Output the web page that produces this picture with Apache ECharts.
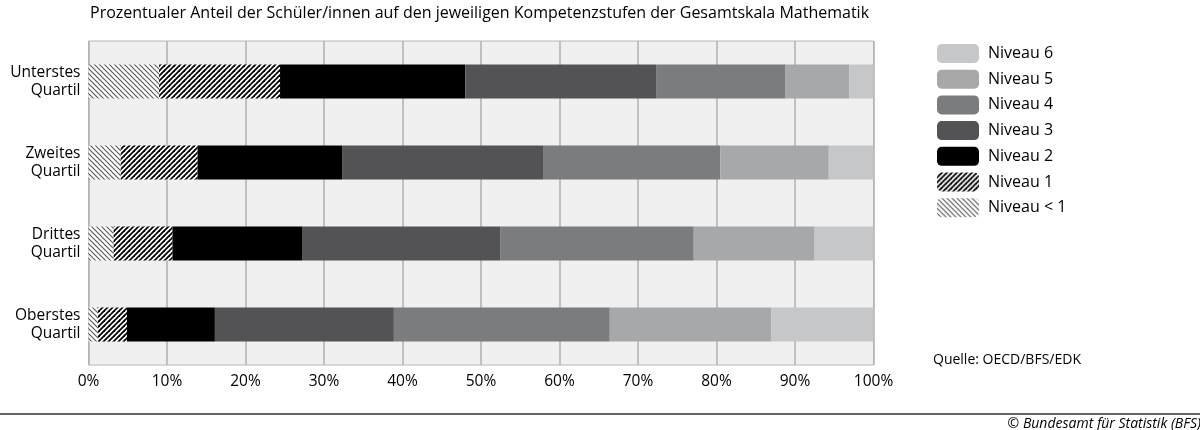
<!DOCTYPE html>
<html><head><meta charset="utf-8">
<script src="https://cdn.jsdelivr.net/npm/echarts@6/dist/echarts.min.js"></script>
<style>html,body{margin:0;padding:0;background:#fff}#c{width:1200px;height:430px}</style>
</head><body><div id="c"></div>
<script>
const categories = ['Unterstes\nQuartil', 'Zweites\nQuartil', 'Drittes\nQuartil', 'Oberstes\nQuartil'];
const seriesNames = ['Niveau < 1', 'Niveau 1', 'Niveau 2', 'Niveau 3', 'Niveau 4', 'Niveau 5', 'Niveau 6'];
const niveauLt1 = [9.0, 4.1, 3.2, 1.2];
const niveau1   = [15.4, 9.8, 7.5, 3.7];
const niveau2   = [23.6, 18.4, 16.5, 11.2];
const niveau3   = [24.3, 25.6, 25.3, 22.8];
const niveau4   = [16.5, 22.6, 24.6, 27.5];
const niveau5   = [8.1, 13.8, 15.4, 20.6];
const niveau6   = [3.1, 5.7, 7.5, 13.0];
const tickLabels = ['0%','10%','20%','30%','40%','50%','60%','70%','80%','90%','100%'];

function hatch(dir, color, lw) {
  const s = 5;
  const c = document.createElement('canvas');
  c.width = s; c.height = s;
  const g = c.getContext('2d');
  g.fillStyle = '#fff'; g.fillRect(0, 0, s, s);
  g.strokeStyle = color; g.lineWidth = lw;
  for (let k = -1; k <= 1; k++) {
    g.beginPath();
    if (dir === '/') { g.moveTo(k * s - 1, s + 1); g.lineTo(k * s + s + 1, -1); }
    else { g.moveTo(k * s - 1, -1); g.lineTo(k * s + s + 1, s + 1); }
    g.stroke();
  }
  return { image: c, repeat: 'repeat' };
}

const values = [niveauLt1, niveau1, niveau2, niveau3, niveau4, niveau5, niveau6];
const colors = [hatch('\\', '#555', 1.1), hatch('/', '#000', 1.8), '#000000', '#535355', '#7b7c7e', '#a7a8a9', '#c6c7c8'];
const FONT = 'Open Sans';

const chart = echarts.init(document.getElementById('c'), null, { renderer: 'canvas' });
chart.setOption({
  animation: false,
  textStyle: { fontFamily: FONT },
  grid: { left: 88.5, right: 326.5, top: 41, height: 324, show: true, backgroundColor: '#eff0ef', borderColor: '#b8b8b8', borderWidth: 1 },
  legend: {
    orient: 'vertical', left: 932, top: 39, itemWidth: 42, itemHeight: 19, itemGap: 6.7,
    data: seriesNames.slice().reverse(),
    textStyle: { fontSize: 16, color: '#000', fontFamily: FONT, padding: [0, 0, 0, 4] }
  },
  xAxis: {
    type: 'value', min: 0, max: 100, interval: 10,
    axisLine: { show: false }, axisTick: { show: false },
    splitLine: { show: true, lineStyle: { color: '#b0b0b0', width: 1.5 } },
    axisLabel: { fontSize: 15.5, color: '#000', margin: 9, formatter: v => tickLabels[Math.round(v / 10)] }
  },
  yAxis: {
    type: 'category', inverse: true, data: categories,
    axisLine: { show: false }, axisTick: { show: false },
    axisLabel: { fontSize: 15.5, color: '#000', lineHeight: 18, align: 'right', margin: 8 }
  },
  series: seriesNames.map((n, i) => ({
    name: n, type: 'bar', stack: 'all', barWidth: 34, data: values[i],
    itemStyle: { color: colors[i] }
  })),
  graphic: [
    { type: 'text', left: 90, top: 5, style: { text: 'Prozentualer Anteil der Schüler/innen auf den jeweiligen Kompetenzstufen der Gesamtskala Mathematik', fontSize: 16, fontFamily: FONT, fill: '#000' } },
    { type: 'text', left: 933, top: 353, style: { text: 'Quelle: OECD/BFS/EDK', fontSize: 14, fontFamily: FONT, fill: '#000' } },
    { type: 'line', shape: { x1: 0, y1: 414, x2: 1200, y2: 414 }, style: { stroke: '#333', lineWidth: 1.5 } },
    { type: 'text', right: -1, top: 417, style: { text: '© Bundesamt für Statistik (BFS)', fontSize: 14, fontStyle: 'italic', fontFamily: FONT, fill: '#000' } }
  ]
});
</script></body></html>
